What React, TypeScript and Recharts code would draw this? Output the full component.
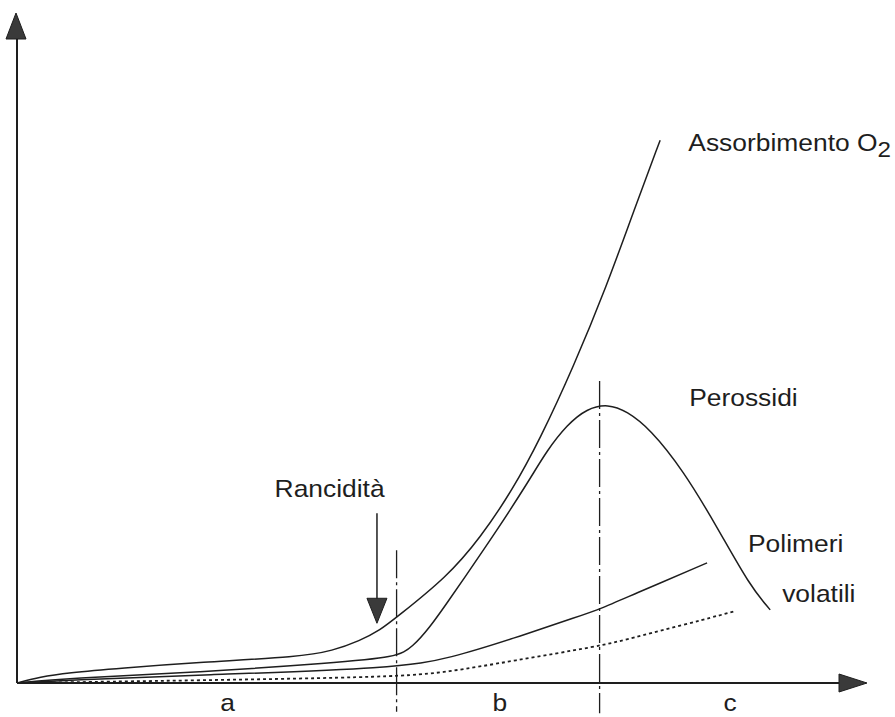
import React from "react";
import {
  ComposedChart,
  Line,
  XAxis,
  YAxis,
  ReferenceLine,
  ReferenceDot,
} from "recharts";

// Curves (x: time, y: intensity, arbitrary units 0-100)
const o2Data = [
  { x: 0, y: 0 },
  { x: 2.7, y: 0.9 },
  { x: 5.9, y: 1.5 },
  { x: 12.1, y: 2.2 },
  { x: 21.5, y: 3.1 },
  { x: 33.2, y: 3.9 },
  { x: 37.0, y: 4.8 },
  { x: 40.2, y: 6.3 },
  { x: 42.6, y: 7.9 },
  { x: 44.5, y: 9.8 },
  { x: 50.4, y: 15.8 },
  { x: 54.3, y: 21.6 },
  { x: 58.1, y: 28.8 },
  { x: 61.3, y: 36.3 },
  { x: 65.2, y: 47.0 },
  { x: 69.2, y: 59.4 },
  { x: 72.2, y: 70.0 },
  { x: 75.4, y: 80.9 },
];

const perossidiData = [
  { x: 0, y: 0 },
  { x: 5.9, y: 0.7 },
  { x: 21.5, y: 1.6 },
  { x: 37.0, y: 3.0 },
  { x: 44.5, y: 3.8 },
  { x: 46.4, y: 5.4 },
  { x: 48.4, y: 8.3 },
  { x: 50.4, y: 11.9 },
  { x: 52.3, y: 15.4 },
  { x: 56.3, y: 22.8 },
  { x: 60.1, y: 30.3 },
  { x: 62.1, y: 34.6 },
  { x: 64.5, y: 38.5 },
  { x: 66.8, y: 40.9 },
  { x: 69.3, y: 41.6 },
  { x: 71.5, y: 40.5 },
  { x: 74.2, y: 37.9 },
  { x: 78.1, y: 31.7 },
  { x: 82.1, y: 23.2 },
  { x: 85.9, y: 14.5 },
  { x: 88.3, y: 10.9 },
];

const polimeriData = [
  { x: 0, y: 0 },
  { x: 5.9, y: 0.4 },
  { x: 21.5, y: 1.2 },
  { x: 44.5, y: 2.2 },
  { x: 50.8, y: 3.7 },
  { x: 58.1, y: 6.6 },
  { x: 66.0, y: 10.0 },
  { x: 68.3, y: 11.0 },
  { x: 71.9, y: 13.0 },
  { x: 80.9, y: 17.9 },
];

const volatiliData = [
  { x: 0, y: 0 },
  { x: 21.5, y: 0.4 },
  { x: 44.5, y: 0.9 },
  { x: 50.4, y: 1.6 },
  { x: 58.1, y: 3.3 },
  { x: 68.3, y: 5.5 },
  { x: 71.9, y: 6.6 },
  { x: 84.2, y: 10.7 },
];

// Phase boundaries (x) and their vertical extents (y)
const phaseBoundaries = [
  { x: 44.5, top: 19.8, bottom: -4.3 },
  { x: 68.3, top: 45.0, bottom: -4.5 },
];

// Phase labels
const phaseLabels = [
  { text: "a", x: 24.7, y: -4.1 },
  { text: "b", x: 56.6, y: -4.1 },
  { text: "c", x: 83.6, y: -4.1 },
];

// Curve labels (anchor at text start / baseline)
const curveLabels = [
  { text: "Assorbimento O", sub: "2", x: 78.7, y: 79.3 },
  { text: "Perossidi", sub: "", x: 78.8, y: 41.3 },
  { text: "Polimeri", sub: "", x: 85.7, y: 19.5 },
  { text: "volatili", sub: "", x: 89.7, y: 12.1 },
  { text: "Rancidità", sub: "", x: 30.2, y: 27.7 },
];

// Rancidità arrow
const rancArrow = { x: 42.2, top: 25.3, tip: 8.9 };

const INK = "#1e1e1e";
const FONT = "'Liberation Sans', Arial, Helvetica, sans-serif";

const StretchText = (props: any) => {
  const { cx, cy, text, sub, anchor } = props;
  if (cx == null || cy == null) return null;
  return (
    <g transform={`translate(${cx} ${cy}) scale(1.1 1)`}>
      <text
        x={0}
        y={0}
        fontFamily={FONT}
        fontSize={24}
        fill={INK}
        textAnchor={anchor || "start"}
      >
        {text}
        {sub ? (
          <tspan fontSize={22} dy={6}>
            {sub}
          </tspan>
        ) : null}
      </text>
    </g>
  );
};

const YArrow = (props: any) => {
  const { cx, cy } = props;
  return (
    <polygon
      points={`${cx - 1},${cy + 1} ${cx - 11},${cy + 27} ${cx + 9},${cy + 27}`}
      fill="#3a3a3a"
      stroke={INK}
      strokeWidth={1}
    />
  );
};

const XArrow = (props: any) => {
  const { cx, cy } = props;
  return (
    <polygon
      points={`${cx - 3},${cy} ${cx - 31},${cy - 9} ${cx - 31},${cy + 9}`}
      fill="#3a3a3a"
      stroke={INK}
      strokeWidth={1}
    />
  );
};

const DownArrowHead = (props: any) => {
  const { cx, cy } = props;
  return (
    <polygon
      points={`${cx},${cy} ${cx - 10},${cy - 25} ${cx + 10},${cy - 25}`}
      fill="#3a3a3a"
      stroke={INK}
      strokeWidth={1}
    />
  );
};

export default function App() {
  return (
    <div
      style={{
        position: "absolute",
        left: 0,
        top: 0,
        width: 895,
        height: 717,
        background: "#ffffff",
      }}
    >
      <ComposedChart
        width={895}
        height={717}
        margin={{ top: 12, right: 25, bottom: 34, left: 17 }}
      >
        <XAxis
          type="number"
          dataKey="x"
          domain={[0, 100]}
          allowDataOverflow
          tick={false}
          tickLine={false}
          height={0}
          axisLine={false}
        />
        <YAxis
          type="number"
          dataKey="y"
          domain={[0, 100]}
          allowDataOverflow
          tick={false}
          tickLine={false}
          width={0}
          axisLine={false}
        />

        {/* axes */}
        <ReferenceLine
          segment={[
            { x: 0, y: 0 },
            { x: 96.5, y: 0 },
          ]}
          stroke={INK}
          strokeWidth={2}
          ifOverflow="visible"
        />
        <ReferenceLine
          segment={[
            { x: 0, y: 0 },
            { x: 0, y: 96 },
          ]}
          stroke={INK}
          strokeWidth={2}
          ifOverflow="visible"
        />
        <ReferenceDot x={0} y={100} r={0} shape={YArrow} ifOverflow="visible" />
        <ReferenceDot x={100} y={0} r={0} shape={XArrow} ifOverflow="visible" />

        {/* phase boundaries */}
        {phaseBoundaries.map((b, i) => (
          <ReferenceLine
            key={`pb${i}`}
            segment={[
              { x: b.x, y: b.top },
              { x: b.x, y: b.bottom },
            ]}
            stroke={INK}
            strokeWidth={1.3}
            strokeDasharray="28 4 3 4"
            ifOverflow="visible"
          />
        ))}

        {/* Rancidità arrow */}
        <ReferenceLine
          segment={[
            { x: rancArrow.x, y: rancArrow.top },
            { x: rancArrow.x, y: rancArrow.tip + 3 },
          ]}
          stroke={INK}
          strokeWidth={1.5}
          ifOverflow="visible"
        />
        <ReferenceDot
          x={rancArrow.x}
          y={rancArrow.tip}
          r={0}
          shape={DownArrowHead}
          ifOverflow="visible"
        />

        <Line
          data={o2Data}
          dataKey="y"
          type="basis"
          stroke={INK}
          strokeWidth={1.5}
          dot={false}
          activeDot={false}
          isAnimationActive={false}
        />
        <Line
          data={perossidiData}
          dataKey="y"
          type="basis"
          stroke={INK}
          strokeWidth={1.5}
          dot={false}
          activeDot={false}
          isAnimationActive={false}
        />
        <Line
          data={polimeriData}
          dataKey="y"
          type="basis"
          stroke={INK}
          strokeWidth={1.5}
          dot={false}
          activeDot={false}
          isAnimationActive={false}
        />
        <Line
          data={volatiliData}
          dataKey="y"
          type="basis"
          stroke={INK}
          strokeWidth={1.8}
          strokeDasharray="3 3"
          dot={false}
          activeDot={false}
          isAnimationActive={false}
        />

        {curveLabels.map((l, i) => (
          <ReferenceDot
            key={`cl${i}`}
            x={l.x}
            y={l.y}
            r={0}
            ifOverflow="visible"
            shape={(p: any) => (
              <StretchText cx={p.cx} cy={p.cy} text={l.text} sub={l.sub} />
            )}
          />
        ))}
        {phaseLabels.map((l, i) => (
          <ReferenceDot
            key={`pl${i}`}
            x={l.x}
            y={l.y}
            r={0}
            ifOverflow="visible"
            shape={(p: any) => (
              <StretchText cx={p.cx} cy={p.cy} text={l.text} anchor="middle" />
            )}
          />
        ))}
      </ComposedChart>
    </div>
  );
}
